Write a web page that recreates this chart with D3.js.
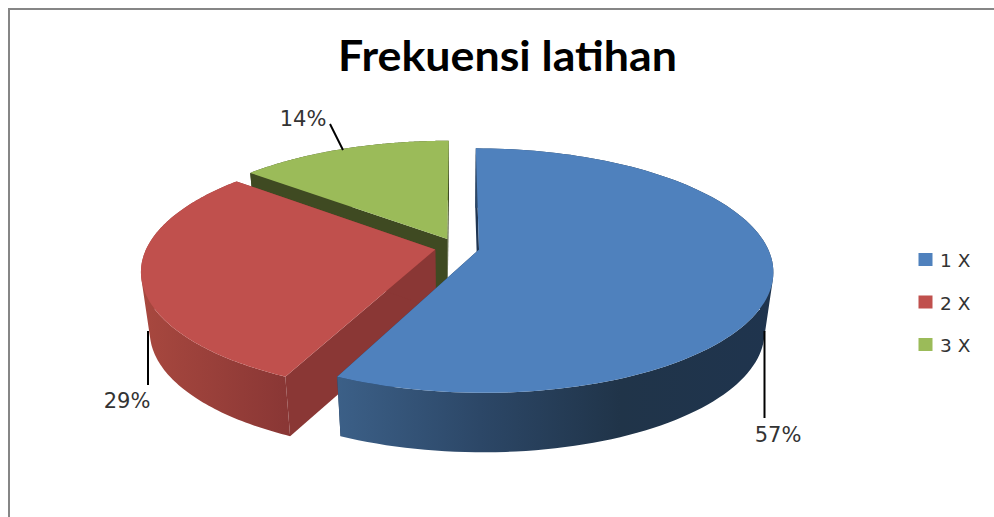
<!DOCTYPE html>
<html><head><meta charset="utf-8">
<script src="https://cdn.jsdelivr.net/npm/d3@7/dist/d3.min.js"></script>
<style>html,body{margin:0;padding:0;background:#fff;overflow:hidden}svg{display:block}</style>
</head><body><svg id="c" width="994" height="517"></svg>
<script>
const categories = ["1 X", "2 X", "3 X"];
const values = [57, 29, 14];
const topColors = ["#4f81bd", "#c0504d", "#9bbb59"];
const faceColors = ["#1f3552", "#8a3735", "#3f4a22"];
const sideStops = [
  [[335, "#3c6088"], [480, "#2c4767"], [620, "#203449"], [775, "#1f344e"]],
  [[141, "#a8483f"], [285, "#8a3735"]],
  [[240, "#3f4a22"], [450, "#3f4a22"]]
];
const explodes = [0.078, 0.077, 0.08];
const title = "Frekuensi latihan";

const W = 994, H = 517;
const cx = 457, cy = 247.5, R = 288.4, Ry = 117.9, persp = 0.172;
const lowerScale = 0.972, lowerDrop = 59.5;
const labelLayout = [
  {x: 778, y: 442, line: [[764.5, 331], [764.5, 418]]},
  {x: 127, y: 408, line: [[148, 331], [148, 385]]},
  {x: 303, y: 126, line: [[330, 124], [343, 150]]}
];

const svg = d3.select("#c");
const defs = svg.append("defs");

const pie = d3.pie().sort(null).startAngle(0).endAngle(2 * Math.PI);
const arcs = pie(values);

function project(a, rad, mid, ex, lower) {
  const X = rad * Math.sin(a) + ex * Math.sin(mid);
  const Y = -rad * Math.cos(a) - ex * Math.cos(mid);
  const s = 1 / (1 - persp * Y);
  let x = cx + R * X * s, y = cy + Ry * Y * s;
  if (lower) {
    x = cx + (x - cx) * lowerScale;
    y = y + lowerDrop;
  }
  return [x, y];
}
const line = d3.line();
const angles = (d) => d3.range(0, 121).map(i => d.startAngle + (d.endAngle - d.startAngle) * i / 120);

svg.append("rect").attr("width", W).attr("height", H).attr("fill", "#fff");
svg.append("path").attr("d", line([[9, H], [9, 9], [W, 9]]))
  .attr("fill", "none").attr("stroke", "#868686").attr("stroke-width", 2);

svg.append("text").attr("x", 338).attr("y", 71)
  .attr("textLength", 339).attr("lengthAdjust", "spacingAndGlyphs")
  .attr("font-family", "Lato, 'Open Sans', sans-serif").attr("font-weight", 700).attr("font-size", 42)
  .attr("fill", "#000").text(title);

sideStops.forEach((stops, i) => {
  const g = defs.append("linearGradient").attr("id", "side" + i)
    .attr("gradientUnits", "userSpaceOnUse")
    .attr("x1", stops[0][0]).attr("x2", stops[stops.length - 1][0]).attr("y1", 0).attr("y2", 0);
  const o = d3.scaleLinear().domain([stops[0][0], stops[stops.length - 1][0]]).range([0, 1]);
  stops.forEach(s => g.append("stop").attr("offset", o(s[0])).attr("stop-color", s[1]));
});

// painter's order: back slice first
[2, 1, 0].forEach(i => {
  const d = arcs[i], mid = (d.startAngle + d.endAngle) / 2, as = angles(d), ex = explodes[i];
  const g = svg.append("g");
  [d.startAngle, d.endAngle].forEach(a => {
    g.append("path").attr("fill", faceColors[i]).attr("d", line([
      project(0, 0, mid, ex, false), project(a, 1, mid, ex, false),
      project(a, 1, mid, ex, true), project(0, 0, mid, ex, true)
    ]) + "Z");
  });
  // outer wall: union of same-winding quads so the silhouette stays tangent
  const wall = d3.pairs(as).map(([a, b]) => line(d3.polygonHull([
    project(a, 1, mid, ex, false), project(b, 1, mid, ex, false),
    project(b, 1, mid, ex, true), project(a, 1, mid, ex, true)
  ])) + "Z").join("");
  g.append("path").attr("fill", `url(#side${i})`).attr("d", wall);
  g.append("path").attr("fill", topColors[i]).attr("d", line(
    [project(0, 0, mid, ex, false)].concat(as.map(a => project(a, 1, mid, ex, false)))
  ) + "Z");
});

const pct = d3.format(".0f");
values.forEach((v, i) => {
  const l = labelLayout[i];
  svg.append("path").attr("d", line(l.line)).attr("fill", "none").attr("stroke", "#000").attr("stroke-width", 2);
  svg.append("text").attr("x", l.x).attr("y", l.y).attr("text-anchor", "middle")
    .attr("font-family", "'DejaVu Sans', sans-serif").attr("font-size", 21).attr("fill", "#333")
    .text(pct(v) + "%");
});

const legendY = d3.scalePoint().domain(categories).range([260, 345]);
categories.forEach((c, i) => {
  const y = legendY(c);
  svg.append("rect").attr("x", 918.5).attr("y", y - 7).attr("width", 14).attr("height", 13).attr("fill", topColors[i]);
  svg.append("text").attr("x", 940).attr("y", y + 7).attr("font-family", "'DejaVu Sans', sans-serif")
    .attr("font-size", 18.5).attr("fill", "#333").text(c);
});
</script></body></html>
